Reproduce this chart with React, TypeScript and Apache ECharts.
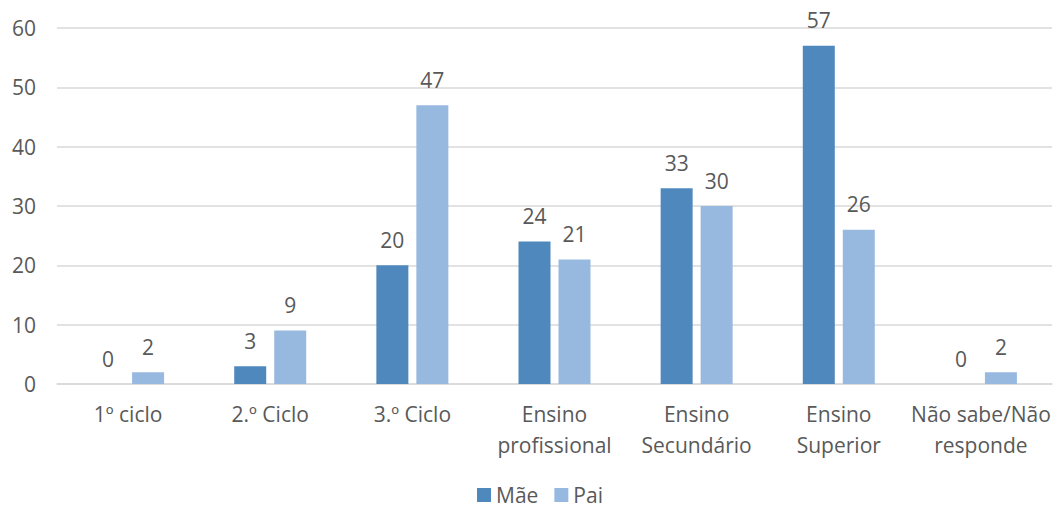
import React, { useEffect, useRef } from "react";
import * as echarts from "echarts";

const categories = [
  "1º ciclo",
  "2.º Ciclo",
  "3.º Ciclo",
  "Ensino\nprofissional",
  "Ensino\nSecundário",
  "Ensino\nSuperior",
  "Não sabe/Não\nresponde",
];
const maeValues = [0, 3, 20, 24, 33, 57, 0];
const paiValues = [2, 9, 47, 21, 30, 26, 2];
const seriesNames = ["Mãe", "Pai"];

const FONT = "'Open Sans', 'Noto Sans', sans-serif";
const TXT = "#595959";

export default function App() {
  const ref = useRef<HTMLDivElement>(null);
  useEffect(() => {
    if (!ref.current) return;
    const chart = echarts.init(ref.current, undefined, { renderer: "svg" });
    const label = {
      show: true,
      position: "top",
      distance: 15,
      color: TXT,
      fontSize: 21,
      fontFamily: FONT,
    };
    chart.setOption({
      animation: false,
      textStyle: { fontFamily: FONT },
      grid: { left: 57, right: 4, top: 28, bottom: 124, containLabel: false },
      legend: {
        top: 483,
        left: 477,
        padding: 0,
        itemWidth: 14,
        itemHeight: 14,
        itemGap: 16,
        icon: "rect",
        textStyle: { color: TXT, fontSize: 21, lineHeight: 24, fontFamily: FONT },
        data: seriesNames,
      },
      xAxis: {
        type: "category",
        data: categories,
        axisLine: { lineStyle: { color: "#d9d9d9", width: 1.5 } },
        axisTick: { show: false },
        axisLabel: {
          color: TXT,
          fontSize: 21,
          fontFamily: FONT,
          margin: 14,
          lineHeight: 31,
          interval: 0,
        },
      },
      yAxis: {
        type: "value",
        min: 0,
        max: 60,
        interval: 10,
        axisLine: { show: false },
        axisTick: { show: false },
        splitLine: { lineStyle: { color: "#d9d9d9", width: 1.5 } },
        axisLabel: { color: TXT, fontSize: 21, fontFamily: FONT, margin: 21 },
      },
      series: [
        {
          name: seriesNames[0],
          type: "bar",
          data: maeValues,
          barWidth: 32,
          barGap: "25%",
          itemStyle: { color: "#4f88bd" },
          label,
        },
        {
          name: seriesNames[1],
          type: "bar",
          data: paiValues,
          barWidth: 32,
          barGap: "25%",
          itemStyle: { color: "#98b9df" },
          label,
        },
      ],
    });
    return () => chart.dispose();
  }, []);
  return (
    <div
      ref={ref}
      style={{ position: "fixed", left: 0, top: 0, width: 1056, height: 508, background: "#fff" }}
    />
  );
}
